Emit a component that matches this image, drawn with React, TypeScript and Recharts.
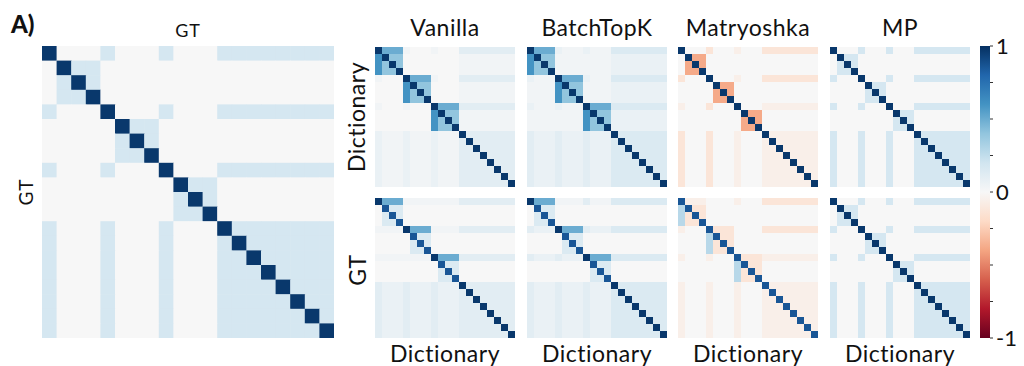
import { ScatterChart, Scatter, XAxis, YAxis, BarChart, Bar } from 'recharts';

// cosine similarity matrices, 20x20, one character per cell (see LEVELS)
const N = 20;

const LEVELS: Record<string, number> = {
  D: 0.97,
  d: 0.86,
  Q: 0.6,
  P: 0.5,
  S: 0.4,
  L: 0.28,
  a: 0.18,
  b: 0.15,
  g: 0.11,
  f: 0.07,
  e: 0.03,
  '.': 0,
  o: -0.06,
  r: -0.13,
  R: -0.38,
};

const GT_ROWS = [
  'D...a...a...aaaaaaaa',
  '.Daa................',
  '.aDa................',
  '.aaD................',
  'a...D...a...aaaaaaaa',
  '.....Daa............',
  '.....aDa............',
  '.....aaD............',
  'a...a...D...aaaaaaaa',
  '.........Daa........',
  '.........aDa........',
  '.........aaD........',
  'a...a...a...Daaaaaaa',
  'a...a...a...aDaaaaaa',
  'a...a...a...aaDaaaaa',
  'a...a...a...aaaDaaaa',
  'a...a...a...aaaaDaaa',
  'a...a...a...aaaaaDaa',
  'a...a...a...aaaaaaDa',
  'a...a...a...aaaaaaaD',
];

const VANILLA_DICT = [
  'DPPPe...e...gggggggg',
  'QDSS........eeeeeeee',
  'QSDS........eeeeeeee',
  'QSSD........eeeeeeee',
  'e...DPPPe...gggggggg',
  '....QDSS....eeeeeeee',
  '....QSDS....eeeeeeee',
  '....QSSD....eeeeeeee',
  'e...e...DPPPgggggggg',
  '........QDSSeeeeeeee',
  '........QSDSeeeeeeee',
  '........QSSDeeeeeeee',
  'feeefeeefeeeDggggggg',
  'feeefeeefeeegDgggggg',
  'feeefeeefeeeggDggggg',
  'feeefeeefeeegggDgggg',
  'feeefeeefeeeggggDggg',
  'feeefeeefeeegggggDgg',
  'feeefeeefeeeggggggDg',
  'feeefeeefeeegggggggD',
];

const VANILLA_GT = [
  'DPPPeeeeeeeegggggggg',
  '.dbb................',
  '.bdb................',
  '.bbd................',
  'eeeeDPPPeeeegggggggg',
  '.....dbb............',
  '.....bdb............',
  '.....bbd............',
  'eeeeeeeeDPPPgggggggg',
  '.........dbb........',
  '.........bdb........',
  '.........bbd........',
  'gfffgfffgfffDggggggg',
  'gfffgfffgfffgDgggggg',
  'gfffgfffgfffggDggggg',
  'gfffgfffgfffgggDgggg',
  'gfffgfffgfffggggDggg',
  'gfffgfffgfffgggggDgg',
  'gfffgfffgfffggggggDg',
  'gfffgfffgfffgggggggD',
];

const BATCHTOPK_DICT = [
  'DPPPfeeefeeebbbbbbbb',
  'QDSSeeeeeeeeffffffff',
  'QSDSeeeeeeeeffffffff',
  'QSSDeeeeeeeeffffffff',
  'feeeDPPPfeeebbbbbbbb',
  'eeeeQDSSeeeeffffffff',
  'eeeeQSDSeeeeffffffff',
  'eeeeQSSDeeeeffffffff',
  'feeefeeeDPPPbbbbbbbb',
  'eeeeeeeeQDSSffffffff',
  'eeeeeeeeQSDSffffffff',
  'eeeeeeeeQSSDffffffff',
  'gfffgfffgfffDbbbbbbb',
  'gfffgfffgfffbDbbbbbb',
  'gfffgfffgfffbbDbbbbb',
  'gfffgfffgfffbbbDbbbb',
  'gfffgfffgfffbbbbDbbb',
  'gfffgfffgfffbbbbbDbb',
  'gfffgfffgfffbbbbbbDb',
  'gfffgfffgfffbbbbbbbD',
];

const BATCHTOPK_GT = [
  'DPPPeeeegeeebbbbbbbb',
  '.dbb................',
  '.bdb................',
  '.bbd................',
  'gfffDPPPgfffbbbbbbbb',
  '.....dbb............',
  '.....bdb............',
  '.....bbd............',
  'gfffgfffDPPPbbbbbbbb',
  '.........dbb........',
  '.........bdb........',
  '.........bbd........',
  'gfffgfffgfffDbbbbbbb',
  'gfffgfffgfffbDbbbbbb',
  'gfffgfffgfffbbDbbbbb',
  'gfffgfffgfffbbbDbbbb',
  'gfffgfffgfffbbbbDbbb',
  'gfffgfffgfffbbbbbDbb',
  'gfffgfffgfffbbbbbbDb',
  'gfffgfffgfffbbbbbbbD',
];

const MATRYOSHKA_DICT = [
  'D...r...o...rrrrrrrr',
  '.DRR................',
  '.RDR................',
  '.RRD................',
  'r...D...o...rrrrrrrr',
  '.....DRR............',
  '.....RDR............',
  '.....RRD............',
  'o...r...D...oooooooo',
  '.........DRR........',
  '.........RDR........',
  '.........RRD........',
  'r...r...o...Dooooooo',
  'r...r...o...oDoooooo',
  'r...r...o...ooDooooo',
  'r...r...o...oooDoooo',
  'r...r...o...ooooDooo',
  'r...r...o...oooooDoo',
  'r...r...o...ooooooDo',
  'r...r...o...oooooooD',
];

const MATRYOSHKA_GT = [
  'dooo....o...rrrrrrrr',
  'Ldrr................',
  'Lrdr................',
  'Lrrd................',
  'o...drrr....rrrrrrrr',
  '....Ldrr............',
  '....Lrdr............',
  '....Lrrd............',
  'o...o...drrroooooooo',
  '........Ldrr........',
  '........Lrdr........',
  '........Lrrd........',
  'o...o...o...dooooooo',
  'o...o...o...odoooooo',
  'o...o...o...oodooooo',
  'o...o...o...ooodoooo',
  'o...o...o...oooodooo',
  'o...o...o...ooooodoo',
  'o...o...o...oooooodo',
  'o...o...o...oooooood',
];

const MP_DICT = GT_ROWS;
const MP_GT = GT_ROWS;

const MODELS = ['Vanilla', 'BatchTopK', 'Matryoshka', 'MP'];
const DICT_ROWS = [VANILLA_DICT, BATCHTOPK_DICT, MATRYOSHKA_DICT, MP_DICT];
const GT_DICT_ROWS = [VANILLA_GT, BATCHTOPK_GT, MATRYOSHKA_GT, MP_GT];

const COLORBAR = [{ name: 'cbar', range: [-1, 1] }];
const COLORBAR_TICKS = [-1, -0.75, -0.5, -0.25, 0, 0.25, 0.5, 0.75, 1];

// matplotlib RdBu, from -1 to 1
const RDBU = [
  '#67001f', '#b2182b', '#d6604d', '#f4a582', '#fddbc7', '#f7f7f7',
  '#d1e5f0', '#92c5de', '#4393c3', '#2166ac', '#053061',
];

function hexToRgb(h: string) {
  return [1, 3, 5].map((i) => parseInt(h.slice(i, i + 2), 16));
}

function rdbu(v: number) {
  const t = Math.max(0, Math.min(1, (v + 1) / 2)) * (RDBU.length - 1);
  const i = Math.min(RDBU.length - 2, Math.floor(t));
  const f = t - i;
  const a = hexToRgb(RDBU[i]);
  const b = hexToRgb(RDBU[i + 1]);
  const c = a.map((x, k) => Math.round(x + (b[k] - x) * f));
  return `rgb(${c[0]},${c[1]},${c[2]})`;
}

function toCells(rows: string[]) {
  const cells: { x: number; y: number; v: number }[] = [];
  rows.forEach((row, r) => {
    row.slice(0, N).split('').forEach((ch, c) => {
      cells.push({ x: c + 0.5, y: r + 0.5, v: LEVELS[ch] ?? 0 });
    });
  });
  return cells;
}

function Heatmap({ rows, size, left, top }: { rows: string[]; size: number; left: number; top: number }) {
  const cell = size / N;
  return (
    <div style={{ position: 'absolute', left, top }}>
      <ScatterChart width={size} height={size} margin={{ top: 0, right: 0, bottom: 0, left: 0 }}>
        <XAxis type="number" dataKey="x" domain={[0, N]} hide />
        <YAxis type="number" dataKey="y" domain={[0, N]} reversed hide />
        <Scatter
          data={toCells(rows)}
          isAnimationActive={false}
          shape={(p: any) => (
            <rect
              x={p.cx - cell / 2}
              y={p.cy - cell / 2}
              width={cell + 0.5}
              height={cell + 0.5}
              fill={rdbu(p.payload.v)}
            />
          )}
        />
      </ScatterChart>
    </div>
  );
}

function Colorbar() {
  return (
    <div style={{ position: 'absolute', left: 980, top: 28 }}>
      <BarChart width={44} height={328} data={COLORBAR} margin={{ top: 18, right: 0, bottom: 18, left: 0 }} barCategoryGap={0}>
        <defs>
          <linearGradient id="rdbu-grad" x1="0" y1="0" x2="0" y2="1">
            {RDBU.map((c, i) => (
              <stop key={i} offset={`${i * 10}%`} stopColor={RDBU[RDBU.length - 1 - i]} />
            ))}
          </linearGradient>
        </defs>
        <XAxis dataKey="name" hide />
        <YAxis
          orientation="right"
          type="number"
          domain={[-1, 1]}
          ticks={COLORBAR_TICKS}
          interval={0}
          width={34}
          axisLine={false}
          tickSize={3}
          tickMargin={3}
          stroke="#333"
          tick={{ fill: '#111', fontSize: 22, fontFamily: 'Lato' }}
          tickFormatter={(v: number) => (Number.isInteger(v) ? String(v) : '')}
        />
        <Bar dataKey="range" fill="url(#rdbu-grad)" isAnimationActive={false} />
      </BarChart>
    </div>
  );
}

const PANEL_LEFT = [375, 527, 678, 830];
const PANEL_SIZE = 140;

export default function App() {
  const font = 'Lato, sans-serif';
  return (
    <div style={{ position: 'fixed', left: 0, top: 0, width: 1024, height: 366, background: '#fff', overflow: 'hidden' }}>
      <Heatmap rows={GT_ROWS} size={292} left={42} top={46} />
      {MODELS.map((m, i) => (
        <Heatmap key={m + 'd'} rows={DICT_ROWS[i]} size={PANEL_SIZE} left={PANEL_LEFT[i]} top={47} />
      ))}
      {MODELS.map((m, i) => (
        <Heatmap key={m + 'g'} rows={GT_DICT_ROWS[i]} size={PANEL_SIZE} left={PANEL_LEFT[i]} top={198} />
      ))}
      <Colorbar />
      <svg width={1024} height={366} style={{ position: 'absolute', left: 0, top: 0, pointerEvents: 'none' }}>
        <g fill="#111" fontFamily={font}>
          <text x={11} y={33} fontSize={24} fontWeight={900}>A)</text>
          <text x={188} y={37} fontSize={18} textAnchor="middle" letterSpacing={1}>GT</text>
          <text transform="translate(33,192) rotate(-90)" fontSize={19} textAnchor="middle" letterSpacing={1}>GT</text>
          {MODELS.map((m, i) => (
            <text key={m} x={PANEL_LEFT[i] + PANEL_SIZE / 2} y={36} fontSize={23} textAnchor="middle" letterSpacing={0.5}>
              {m}
            </text>
          ))}
          {MODELS.map((m, i) => (
            <text key={m} x={PANEL_LEFT[i] + PANEL_SIZE / 2} y={362} fontSize={23} textAnchor="middle" letterSpacing={0.5}>
              Dictionary
            </text>
          ))}
          <text transform="translate(365,117) rotate(-90)" fontSize={23} textAnchor="middle" letterSpacing={0.5}>Dictionary</text>
          <text transform="translate(366,270) rotate(-90)" fontSize={23} textAnchor="middle" letterSpacing={0.5}>GT</text>
        </g>
      </svg>
    </div>
  );
}
